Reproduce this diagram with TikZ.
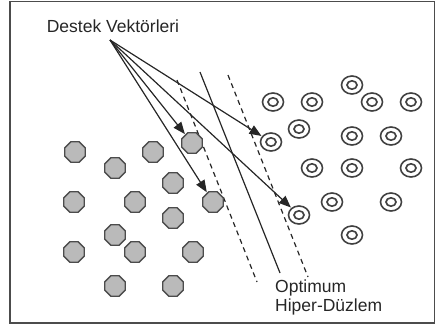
\documentclass[tikz,border=0pt]{standalone}
\usepackage{fontspec}
\setmainfont{Liberation Sans}
\usetikzlibrary{shapes.geometric,arrows.meta}

\tikzset{
  octa/.style={regular polygon, regular polygon sides=8, draw=black!70, fill=black!27,
    line width=1.3pt, minimum size=22pt, inner sep=0pt},
  ring/.style={ellipse, draw=black!75, line width=1.6pt, minimum width=21pt,
    minimum height=18pt, inner sep=0pt,
    path picture={\draw [black!75, line width=1.6pt] (path picture bounding box.center) ellipse (5pt and 4.2pt);}},
  svarrow/.style={black!85, line width=1.2pt, -{Triangle[length=12pt,width=9.5pt]}, shorten >=0.5pt},
  lbl/.style={inner sep=0pt, text=black!85, font=\fontsize{17.5}{19}\selectfont}
}

\begin{document}
\begin{tikzpicture}[x=1pt,y=1pt]
\useasboundingbox (0,0) rectangle (436,-326);
\draw [black!70, line width=1.4pt] (10,-1.5) rectangle (434.5,-323);
% hyperplanes
\draw [black!85, line width=1.2pt] (200,-72) -- (280,-273);
\draw [black!85, line width=1.2pt, dash pattern=on 5pt off 4pt] (177,-80) -- (257,-282);
\draw [black!85, line width=1.2pt, dash pattern=on 5pt off 4pt] (228,-75) -- (308,-277);
% class 1
\node [octa] (g1) at (75,-152) {};
\node [octa] (g2) at (115,-168) {};
\node [octa] (g3) at (153,-152) {};
\node [octa] (g4) at (192,-143) {};
\node [octa] (g5) at (173,-183) {};
\node [octa] (g6) at (74,-202) {};
\node [octa] (g7) at (135,-202) {};
\node [octa] (g8) at (213,-202) {};
\node [octa] (g9) at (173,-218) {};
\node [octa] (g10) at (115,-235) {};
\node [octa] (g11) at (74,-252) {};
\node [octa] (g12) at (135,-252) {};
\node [octa] (g13) at (193,-252) {};
\node [octa] (g14) at (115,-286) {};
\node [octa] (g15) at (173,-286) {};
% class 2
\node [ring] (r1) at (352,-85) {};
\node [ring] (r2) at (273,-102) {};
\node [ring] (r3) at (312,-102) {};
\node [ring] (r4) at (372,-102) {};
\node [ring] (r5) at (411,-102) {};
\node [ring] (r6) at (299,-129) {};
\node [ring] (r7) at (352,-136) {};
\node [ring] (r8) at (391,-136) {};
\node [ring] (r9) at (271,-142) {};
\node [ring] (r10) at (312,-168) {};
\node [ring] (r11) at (352,-168) {};
\node [ring] (r12) at (411,-168) {};
\node [ring] (r13) at (332,-202) {};
\node [ring] (r14) at (391,-202) {};
\node [ring] (r15) at (299,-215) {};
\node [ring] (r16) at (352,-235) {};
% labels
\node [lbl] (sv) at (113,-26) {Destek Vektörleri};
\coordinate (dv) at (110,-40);
\node [lbl, anchor=west, align=left] (hp) at (275,-297.5) {Optimum\\Hiper-Düzlem};
% support vector arrows
\draw [svarrow] (dv) -- (g4);
\draw [svarrow] (dv) -- (g8);
\draw [svarrow] (dv) -- (r9);
\draw [svarrow] (dv) -- (r15);
\end{tikzpicture}
\end{document}
